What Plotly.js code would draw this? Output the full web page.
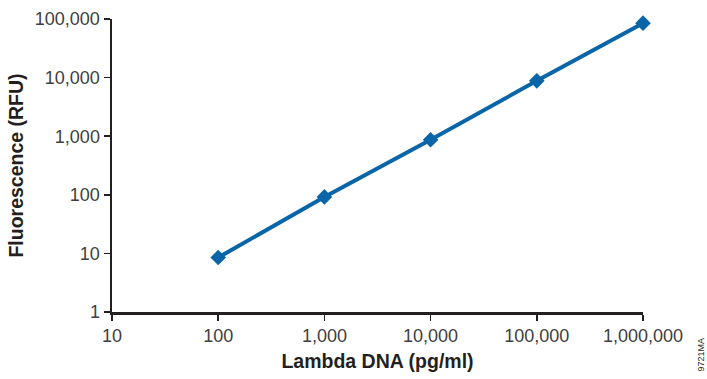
<!DOCTYPE html>
<html>
<head>
<meta charset="utf-8">
<script src="https://cdn.plot.ly/plotly-3.0.1.min.js"></script>
<style>html,body{margin:0;padding:0;background:#fff}#chart{width:707px;height:379px}</style>
</head>
<body>
<div id="chart"></div>
<script>
const lambdaDNA = [100, 1000, 10000, 100000, 1000000];
const fluorescence = [8.5, 92, 870, 8800, 85000];
const xTickVals = [10, 100, 1000, 10000, 100000, 1000000];
const xTickText = ["10", "100", "1,000", "10,000", "100,000", "1,000,000"];
const yTickVals = [1, 10, 100, 1000, 10000, 100000];
const yTickText = ["1", "10", "100", "1,000", "10,000", "100,000"];

const blue = "#0865a8";
const trace = {
  x: lambdaDNA, y: fluorescence, type: "scatter", mode: "lines+markers",
  line: {color: blue, width: 4},
  marker: {symbol: "diamond", size: 12, color: blue},
  cliponaxis: false, hoverinfo: "none"
};
const tickFont = {family: "Liberation Sans, Arial, sans-serif", size: 18, color: "#404040"};
const titleFont = {family: "Liberation Sans, Arial, sans-serif", size: 19.5, color: "#231f20", weight: "bold"};
const layout = {
  width: 707, height: 379,
  margin: {l: 112, r: 64, t: 19, b: 67},
  paper_bgcolor: "#fff", plot_bgcolor: "#fff",
  showlegend: false,
  xaxis: {
    type: "log", range: [1, 6], tickvals: xTickVals, ticktext: xTickText,
    showgrid: false, zeroline: false, showline: true, linecolor: "#231f20", linewidth: 2.5,
    ticks: "outside", ticklen: 6, tickwidth: 1.5, tickcolor: "#231f20",
    tickfont: tickFont,
    title: {text: "<b>Lambda DNA (pg/ml)</b>", font: titleFont, standoff: 10}
  },
  yaxis: {
    type: "log", range: [0, 5], tickvals: yTickVals, ticktext: yTickText,
    showgrid: false, zeroline: false, showline: true, linecolor: "#231f20", linewidth: 2.5,
    ticks: "outside", ticklen: 6, tickwidth: 1.5, tickcolor: "#231f20",
    tickfont: tickFont,
    title: {text: "<b>Fluorescence (RFU)</b>", font: titleFont, standoff: 6}
  },
  annotations: [{
    text: "9721MA", xref: "paper", yref: "paper", x: 1.111, y: -0.145,
    xanchor: "center", yanchor: "middle",
    showarrow: false, textangle: -90, font: {family: "Liberation Sans, Arial, sans-serif", size: 9, color: "#231f20"}
  }]
};
Plotly.newPlot("chart", [trace], layout, {displayModeBar: false, staticPlot: true});
</script>
</body>
</html>
